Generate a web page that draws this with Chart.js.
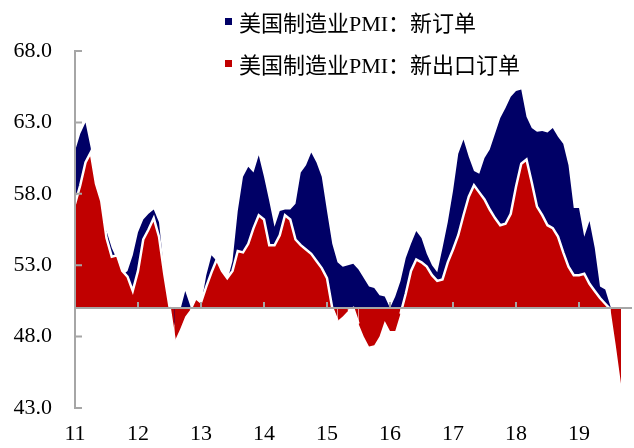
<!DOCTYPE html>
<html>
<head>
<meta charset="utf-8">
<script src="https://cdn.jsdelivr.net/npm/chart.js@4/dist/chart.umd.min.js"></script>
<style>
html,body{margin:0;padding:0;background:#fff;}
#wrap{position:relative;width:634px;height:448px;overflow:hidden;}
#c{position:absolute;left:0;top:0;}
.lg{position:absolute;left:225px;height:26px;display:flex;align-items:center;
  font-family:"Liberation Serif","Times New Roman","Noto Sans CJK SC",serif;font-size:22px;color:#000;white-space:nowrap;}
.lg .sq{display:inline-block;width:7px;height:7px;margin-right:7px;}
</style>
</head>
<body>
<div id="wrap">
  <canvas id="c" width="634" height="448"></canvas>
  <div class="lg" style="top:8px"><span class="sq" style="background:#000066"></span><span>美国制造业PMI：新订单</span></div>
  <div class="lg" style="top:50px"><span class="sq" style="background:#c00000"></span><span>美国制造业PMI：新出口订单</span></div>
</div>
<script>
// ---- data (monthly, Jan 2011 - Sep 2019) ----
const seriesNames = ['美国制造业PMI：新订单', '美国制造业PMI：新出口订单'];
const yearLabels = ['11','12','13','14','15','16','17','18','19'];
const yTicks = [43, 48, 53, 58, 63, 68];
const baseValue = 50;

const newOrders = [
  61.0, 62.2, 63.0, 61.2, 57.8, 55.8, 55.4, 54.2, 53.4, 52.3, 52.6, 53.7,
  55.3, 56.2, 56.6, 56.9, 56.0, 52.5, 50.3, 48.8, 49.8, 51.2, 50.1, 50.3,
  50.2, 52.3, 53.7, 53.3, 52.3, 51.9, 53.3, 56.8, 59.2, 59.9, 59.5, 60.7,
  59.2, 57.5, 55.7, 56.8, 56.9, 56.9, 57.3, 59.5, 60.0, 60.9, 60.2, 59.2,
  56.8, 54.5, 53.2, 52.9, 53.0, 53.1, 52.7, 52.1, 51.5, 51.4, 50.9, 50.8,
  50.0, 50.8, 51.9, 53.5, 54.5, 55.4, 54.9, 53.8, 53.0, 52.5, 54.2, 56.0,
  58.2, 60.8, 61.8, 60.6, 59.6, 59.4, 60.5, 61.1, 62.2, 63.3, 64.0, 64.8,
  65.2, 65.3, 63.4, 62.6, 62.35, 62.4, 62.3, 62.6, 62.0, 61.5, 60.0, 57.0,
  57.0, 55.0, 56.1, 54.2, 51.5, 51.3, 50.1, 49.2, 47.8
];
const exportOrders = [
  57.3, 58.6, 60.2, 60.9, 58.7, 57.5, 54.9, 53.6, 53.7, 52.6, 52.2, 51.2,
  52.6, 54.8, 55.5, 56.3, 55.0, 52.4, 50.1, 47.7, 48.5, 49.4, 49.9, 50.7,
  50.4, 51.5, 52.5, 53.4, 52.6, 52.1, 52.6, 54.0, 53.9, 54.5, 55.6, 56.5,
  56.2, 54.4, 54.4, 55.1, 56.5, 56.2, 54.8, 54.4, 54.1, 53.8, 53.3, 52.8,
  52.1, 50.0, 49.1, 49.4, 49.8, 50.0, 48.9, 48.0, 47.3, 47.4, 48.0, 49.1,
  48.4, 48.4, 49.6, 51.0, 52.6, 53.4, 53.2, 52.9, 52.3, 51.9, 52.0, 53.2,
  54.1, 55.1, 56.5, 57.8, 58.6, 58.1, 57.6, 56.9, 56.3, 55.8, 55.9, 56.6,
  58.5, 60.1, 60.4, 58.8, 57.1, 56.5, 55.8, 55.6, 55.0, 53.9, 52.9, 52.3,
  52.3, 52.4, 51.7, 51.2, 50.7, 50.3, 49.9, 47.4, 44.7
];

const startYear = 2011;
const months = [];
for (let i = 0; i < newOrders.length; i++) {
  const yy = startYear + Math.floor(i / 12);
  const mm = (i % 12) + 1;
  months.push(yy + '-' + String(mm).padStart(2, '0'));
}

const FONT = '"Liberation Serif","Times New Roman",serif';

const axisPlugin = {
  id: 'axisLines',
  afterDatasetsDraw(chart) {
    const { ctx, chartArea, scales } = chart;
    const x = scales.x, y = scales.y;
    const x0 = chartArea.left;
    ctx.save();
    ctx.strokeStyle = '#a6a6a6';
    ctx.lineWidth = 2;
    ctx.beginPath();
    ctx.moveTo(x0, y.getPixelForValue(yTicks[yTicks.length - 1]) - 1);
    ctx.lineTo(x0, y.getPixelForValue(yTicks[0]) + 1);
    yTicks.forEach(v => {
      const py = y.getPixelForValue(v);
      ctx.moveTo(x0, py);
      ctx.lineTo(x0 + 7, py);
    });
    const yb = y.getPixelForValue(baseValue);
    ctx.moveTo(x0, yb);
    ctx.lineTo(chart.width - 2, yb);
    months.forEach((m, i) => {
      if (i > 0 && m.endsWith('-01')) {
        const px = x.getPixelForValue(i);
        ctx.moveTo(px, yb);
        ctx.lineTo(px, yb - 6);
      }
    });
    ctx.stroke();
    ctx.restore();
  }
};

new Chart(document.getElementById('c'), {
  type: 'line',
  data: {
    labels: months,
    datasets: [
      {
        label: seriesNames[0],
        data: newOrders,
        order: 1,
        backgroundColor: '#000066',
        borderColor: '#000066',
        borderWidth: 0,
        pointRadius: 0,
        tension: 0,
        fill: { value: baseValue }
      },
      {
        label: seriesNames[1],
        data: exportOrders,
        order: 0,
        backgroundColor: '#c00000',
        borderColor: '#ffffff',
        borderWidth: 2.5,
        pointRadius: 0,
        tension: 0,
        fill: { value: baseValue },
        segment: {
          borderColor: c => (c.p0.parsed.y < baseValue && c.p1.parsed.y < baseValue) ? 'rgba(255,255,255,0)' : '#ffffff'
        }
      }
    ]
  },
  options: {
    responsive: false,
    animation: false,
    devicePixelRatio: 1,
    layout: { padding: { top: 51, right: 6, bottom: 0, left: 0 } },
    plugins: {
      legend: { display: false },
      tooltip: { enabled: false }
    },
    scales: {
      x: {
        type: 'category',
        offset: false,
        grid: { display: false, drawTicks: false },
        border: { display: false },
        afterFit: s => { s.height = 40; },
        ticks: {
          autoSkip: false,
          maxRotation: 0,
          minRotation: 0,
          padding: 13,
          color: '#000',
          font: { family: FONT, size: 22 },
          callback: function (v, i) {
            return months[i].endsWith('-01') ? yearLabels[Math.floor(i / 12)] : '';
          }
        }
      },
      y: {
        min: yTicks[0],
        max: yTicks[yTicks.length - 1],
        grid: { display: false, drawTicks: false },
        border: { display: false },
        afterBuildTicks: s => { s.ticks = yTicks.map(v => ({ value: v })); },
        afterFit: s => { s.width = 75; },
        ticks: {
          padding: 23,
          color: '#000',
          font: { family: FONT, size: 22 },
          callback: v => Number(v).toFixed(1)
        }
      }
    }
  },
  plugins: [axisPlugin]
});
</script>
</body>
</html>
